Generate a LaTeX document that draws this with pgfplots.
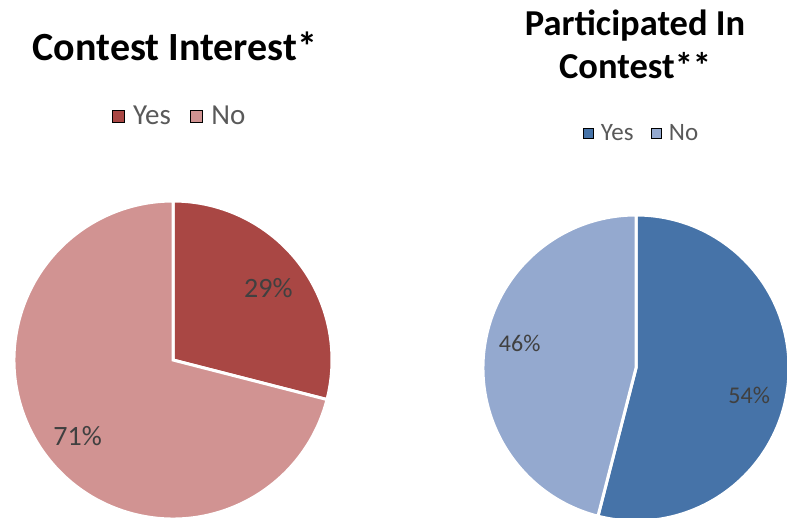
\documentclass[border=0pt]{standalone}
\usepackage{fontspec}
\setmainfont{Carlito}
\usepackage{pgfplots}
\pgfplotsset{compat=1.18}
\usepackage{pgfplotstable}

\definecolor{redyes}{HTML}{A94744}
\definecolor{redno}{HTML}{D19392}
\definecolor{blueyes}{HTML}{4673A8}
\definecolor{blueno}{HTML}{94A9CF}
\definecolor{lbl}{HTML}{404040}
\definecolor{legtxt}{HTML}{595959}

% shares in percent, label positions in axis units (radius = 1)
\pgfplotstableread{
label value lx ly
Yes 29 0.60 0.45
No 71 -0.60 -0.48
}\interest
\pgfplotstableread{
label value lx ly
Yes 54 0.74 -0.18
No 46 -0.76 0.16
}\participated

\newcommand\getval[4]{\pgfplotstablegetelem{#2}{#3}\of#1\global\let#4\pgfplotsretval}

\getval{\interest}{0}{value}{\Lyes}
\getval{\interest}{1}{value}{\Lno}
\getval{\interest}{0}{lx}{\Lyx}
\getval{\interest}{0}{ly}{\Lyy}
\getval{\interest}{1}{lx}{\Lnx}
\getval{\interest}{1}{ly}{\Lny}
\getval{\participated}{0}{value}{\Ryes}
\getval{\participated}{1}{value}{\Rno}
\getval{\participated}{0}{lx}{\Ryx}
\getval{\participated}{0}{ly}{\Ryy}
\getval{\participated}{1}{lx}{\Rnx}
\getval{\participated}{1}{ly}{\Rny}

% slices start at 12 o'clock and run clockwise
\pgfmathsetmacro\LA{90-3.6*\Lyes}
\pgfmathsetmacro\LB{\LA-3.6*\Lno}
\pgfmathsetmacro\RA{90-3.6*\Ryes}
\pgfmathsetmacro\RB{\RA-3.6*\Rno}

\pgfplotsset{
  pie/.style={hide axis, scale only axis, width=#1, height=#1,
    xmin=-1, xmax=1, ymin=-1, ymax=1, clip=false, anchor=center,
    legend columns=2,
    legend style={draw=none, fill=none, anchor=center, text=legtxt,
      nodes={inner sep=1pt}}},
}

\begin{document}
\begin{tikzpicture}
\useasboundingbox (0,0) rectangle (787pt,517pt);
\clip (0,0) rectangle (787pt,517pt);

\begin{axis}[pie=318pt, at={(173pt,157pt)},
  legend image code/.code={\fill[#1] (0pt,-6pt) rectangle (12pt,6pt);},
  legend style={at={(0.519,1.267)}, font=\fontsize{29}{34}\selectfont,
    /tikz/every odd column/.append style={column sep=8pt},
    /tikz/every even column/.append style={column sep=18pt}}]
\addlegendimage{fill=redyes}\addlegendentry{Yes}
\addlegendimage{fill=redno}\addlegendentry{No}
\fill[redyes, draw=white, line width=3pt] (axis cs:0,0) -- (axis cs:0,1)
  arc[start angle=90, end angle=\LA, radius=159pt] -- cycle;
\fill[redno, draw=white, line width=3pt] (axis cs:0,0) -- (axis cs:{cos(\LA)},{sin(\LA)})
  arc[start angle=\LA, end angle=\LB, radius=159pt] -- cycle;
\node[text=lbl, font=\fontsize{28}{34}\selectfont] at (axis cs:\Lyx,\Lyy) {\Lyes\%};
\node[text=lbl, font=\fontsize{28}{34}\selectfont] at (axis cs:\Lnx,\Lny) {\Lno\%};
\node[anchor=base, font=\bfseries\fontsize{40}{48}\selectfont] at (rel axis cs:0.506,1.443) {Contest Interest*};
\end{axis}

\begin{axis}[pie=306pt, at={(636pt,149pt)},
  legend image code/.code={\fill[#1] (0pt,-5pt) rectangle (10pt,5pt);},
  legend style={at={(0.516,1.268)}, font=\fontsize{25}{30}\selectfont,
    /tikz/every odd column/.append style={column sep=7pt},
    /tikz/every even column/.append style={column sep=16pt}}]
\addlegendimage{fill=blueyes}\addlegendentry{Yes}
\addlegendimage{fill=blueno}\addlegendentry{No}
\fill[blueyes, draw=white, line width=3pt] (axis cs:0,0) -- (axis cs:0,1)
  arc[start angle=90, end angle=\RA, radius=153pt] -- cycle;
\fill[blueno, draw=white, line width=3pt] (axis cs:0,0) -- (axis cs:{cos(\RA)},{sin(\RA)})
  arc[start angle=\RA, end angle=\RB, radius=153pt] -- cycle;
\node[text=lbl, font=\fontsize{24}{29}\selectfont] at (axis cs:\Ryx,\Ryy) {\Ryes\%};
\node[text=lbl, font=\fontsize{24}{29}\selectfont] at (axis cs:\Rnx,\Rny) {\Rno\%};
\node[anchor=base, font=\bfseries\fontsize{36.5}{44}\selectfont] at (rel axis cs:0.497,1.588) {Participated In};
\node[anchor=base, font=\bfseries\fontsize{36.5}{44}\selectfont] at (rel axis cs:0.497,1.447) {Contest**};
\end{axis}
\end{tikzpicture}
\end{document}
